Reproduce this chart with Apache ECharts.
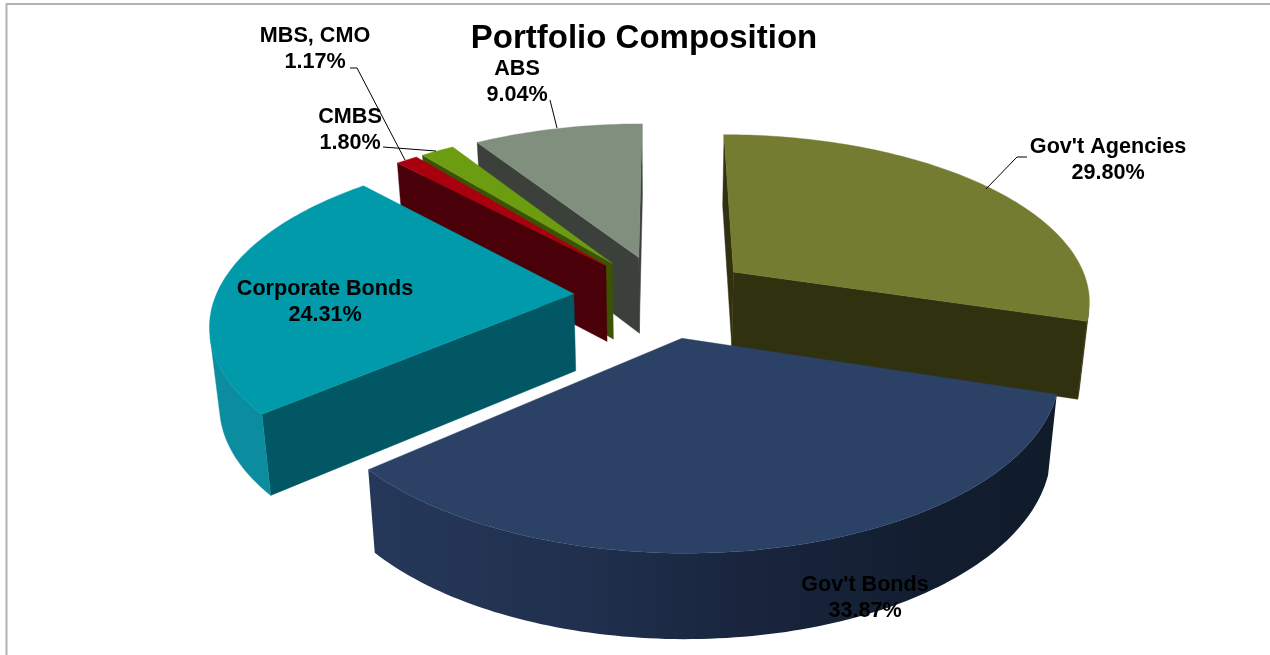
<!DOCTYPE html>
<html>
<head>
<meta charset="utf-8">
<style>html,body{margin:0;padding:0;background:#fff}#c{width:1270px;height:655px}</style>
<script src="https://cdn.jsdelivr.net/npm/echarts@6/dist/echarts.min.js"></script>
</head>
<body>
<div id="c"></div>
<script>
// ---- data ----
const titleText = "Portfolio Composition";
const categories = ["Gov't Agencies", "Gov't Bonds", "Corporate Bonds", "MBS, CMO", "CMBS", "ABS"];
const shares = [29.80, 33.87, 24.31, 1.17, 1.80, 9.04];

// ---- styling ----
const topColors  = ["#747c31", "#2b4165", "#009aab", "#a8000f", "#6c9c10", "#808f7e"];
const wallColors = ["#30320f", "#1a2840", "#015864", "#4a0008", "#3d5205", "#3b413a"];
const rimColors  = ["#30320f", null, "#0c8d9f", "#4a0008", "#3d5205", "#3b413a"];
const labelFont = 'bold 21.6px "Liberation Sans", Arial, sans-serif';

// ---- 3D view: perspective ground plane, 25% explosion ----
const view = {cx: 663, cy: 296, radius: 358, tilt: 166, persp: 0.158, depth: 77, shrink: 0.978, explode: 0.25};
const labelCentres = [[1108,160],[865,598],[325,302],[315,49],[350,130],[517,82]];
const leaderPaths = [
  [[1027,157],[1017,157],[986,189]],
  null,
  null,
  [[350,68],[357,68],[405,160]],
  [[383,147],[436,151]],
  [[550,100],[557,128]]
];

const total = shares.reduce((a, b) => a + b, 0);
function project(wx, wy, bottom) {
  const p = 1 / (1 + view.persp * wy);
  const x = view.radius * wx * p, y = -view.tilt * wy * p;
  if (!bottom) return [view.cx + x, view.cy + y];
  return [view.cx + x * view.shrink, view.cy + y + view.depth * Math.sqrt(p)];
}
function faces(a, b, aDown) {
  const tx = b[0] - a[0], ty = b[1] - a[1];
  const dx = aDown[0] - a[0], dy = aDown[1] - a[1];
  return dx * ty - dy * tx > 0;
}
const depthOrder = shares.map((v, i) => {
  const before = shares.slice(0, i).reduce((a, b) => a + b, 0);
  return {i, wy: Math.cos(echarts.number.linearMap(before + v / 2, [0, total], [0, 2 * Math.PI]))};
}).sort((a, b) => b.wy - a.wy).map(d => d.i);

function renderSlice(params, api) {
  const i = params.dataIndex;
  const value = api.value(0);
  const before = shares.slice(0, i).reduce((a, b) => a + b, 0);
  const a0 = echarts.number.linearMap(before, [0, total], [0, 2 * Math.PI]);
  const a1 = echarts.number.linearMap(before + value, [0, total], [0, 2 * Math.PI]);
  const mid = (a0 + a1) / 2;
  const ox = view.explode * Math.sin(mid), oy = view.explode * Math.cos(mid);
  const steps = Math.max(6, Math.ceil((a1 - a0) / 0.02));
  const rimT = [], rimB = [];
  for (let s = 0; s <= steps; s++) {
    const t = a0 + (a1 - a0) * s / steps;
    rimT.push(project(ox + Math.sin(t), oy + Math.cos(t), false));
    rimB.push(project(ox + Math.sin(t), oy + Math.cos(t), true));
  }
  const apexT = project(ox, oy, false), apexB = project(ox, oy, true);
  const rank = depthOrder.indexOf(i) * 10 + 1;
  const kids = [];
  const poly = (pts, fill, z2) => kids.push({
    type: 'polygon', z2, shape: {points: pts},
    style: {fill, stroke: typeof fill === 'string' ? fill : null, lineWidth: 0.4}
  });
  // radial walls
  const n = rimT.length - 1;
  if (faces(apexT, rimT[0], apexB)) poly([apexT, rimT[0], rimB[0], apexB], wallColors[i], rank);
  if (faces(rimT[n], apexT, rimB[n])) poly([rimT[n], apexT, apexB, rimB[n]], wallColors[i], rank);
  // outer rim wall: only the front-facing run
  const upper = [], lower = [];
  for (let s = 0; s < n; s++) {
    if (faces(rimT[s], rimT[s + 1], rimB[s])) {
      if (!upper.length) { upper.push(rimT[s]); lower.push(rimB[s]); }
      upper.push(rimT[s + 1]); lower.push(rimB[s + 1]);
    }
  }
  if (upper.length) {
    const fill = rimColors[i] || new echarts.graphic.LinearGradient(0, 0, 1, 0, [
      {offset: 0, color: '#26385a'}, {offset: 0.3, color: '#20304e'},
      {offset: 0.55, color: '#19253d'}, {offset: 0.8, color: '#121e30'}, {offset: 1, color: '#101c2a'}
    ]);
    poly(upper.concat(lower.reverse()), fill, rank + 1);
  }
  // top face
  poly([apexT].concat(rimT), topColors[i], rank + 2);
  // leader + label on top of everything
  if (leaderPaths[i]) kids.push({
    type: 'polyline', z2: 200, shape: {points: leaderPaths[i]},
    style: {stroke: '#000', lineWidth: 1, fill: null}
  });
  kids.push({
    type: 'text', z2: 210, x: labelCentres[i][0], y: labelCentres[i][1],
    style: {
      text: categories[i] + '\n' + value.toFixed(2) + '%',
      font: labelFont, fill: '#000', align: 'center', verticalAlign: 'middle', lineHeight: 26
    }
  });
  return {type: 'group', children: kids};
}

const chart = echarts.init(document.getElementById('c'), null, {width: 1270, height: 655});
chart.setOption({
  animation: false,
  backgroundColor: '#fff',
  title: {
    text: titleText, left: 639, top: 17, textAlign: 'center',
    textStyle: {fontFamily: '"Liberation Sans", Arial, sans-serif', fontWeight: 'bold', fontSize: 33, color: '#000'}
  },
  graphic: [{
    type: 'polyline', silent: true,
    shape: {points: [[6.5, 655], [6.5, 4], [1270, 4]]},
    style: {stroke: '#b3b3b3', lineWidth: 2, fill: null}
  }],
  series: [{
    type: 'custom', coordinateSystem: 'none', renderItem: renderSlice,
    data: shares.map(v => [v])
  }]
});
</script>
</body>
</html>
